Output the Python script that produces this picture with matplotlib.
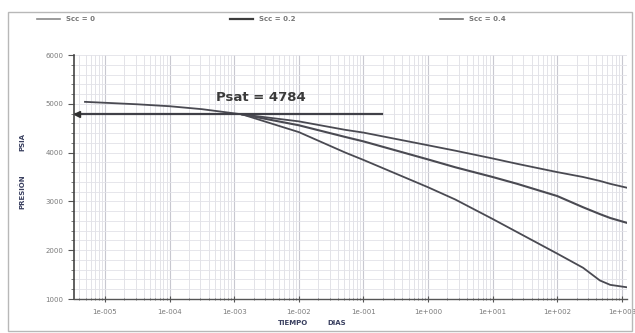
import numpy as np
import matplotlib.pyplot as plt
from matplotlib.ticker import FixedLocator, FuncFormatter, MultipleLocator
from matplotlib.lines import Line2D
from matplotlib.patches import Rectangle

# common curve above Psat (log10 of time in days, pressure psia)
log_t_common = [-5.31, -4.5, -4.0, -3.5, -2.88]
p_common = [5040, 4990, 4950, 4890, 4784]

# branches below Psat
log_t_branch = [-2.88, -2.0, -1.28, -1.0, 0.0, 0.42, 1.0, 1.38, 2.0, 2.4, 2.66, 2.82, 3.08]
p_scc04 = [4784, 4640, 4466, 4410, 4150, 4040, 3880, 3770, 3600, 3500, 3420, 3360, 3280]
p_scc02 = [4784, 4560, 4320, 4230, 3860, 3700, 3500, 3360, 3110, 2880, 2740, 2660, 2560]
p_scc00 = [4784, 4420, 4000, 3850, 3290, 3040, 2640, 2370, 1930, 1640, 1380, 1290, 1240]

psat = 4784
psat_end_log = -0.71

legend_labels = ['Scc = 0', 'Scc = 0.2', 'Scc = 0.4']
legend_colors = ['#8a8a8a', '#3c3c3c', '#6e6e6e']

xlim_log = (-5.48, 3.08)
ylim = (1000, 6000)

fig = plt.figure(figsize=(6.35, 3.33), dpi=100)
fig.patch.set_facecolor('white')
ax = fig.add_axes([74/635, 1-299/333, (627-74)/635, (299-55)/333])

# outer frame of the scanned chart
fig.patches.append(Rectangle((8/635, 2/333), 624/635, 319/333, transform=fig.transFigure,
                             fill=False, edgecolor='#b8b8b8', linewidth=1.0))

ax.set_xscale('log')
ax.set_xlim(10**xlim_log[0], 10**xlim_log[1])
ax.set_ylim(*ylim)

curve_col = '#4a4a52'
t_c = 10**np.array(log_t_common)
t_b = 10**np.array(log_t_branch)
ax.plot(t_c, p_common, color=curve_col, lw=1.3)
ax.plot(t_b, p_scc04, color=curve_col, lw=1.3)
ax.plot(t_b, p_scc02, color=curve_col, lw=1.5)
ax.plot(t_b, p_scc00, color=curve_col, lw=1.3)

# Psat line with arrow head at the axis
ax.plot([10**xlim_log[0], 10**psat_end_log], [psat, psat], color='#404048', lw=1.6)
ax.plot([10**(xlim_log[0] + 0.04)], [psat], marker='<', color='#303030', ms=5, clip_on=False)
ax.text(10**-3.28, 5120, 'Psat = 4784', fontsize=9.5, fontweight='bold', color='#3a3a3a',
        ha='left', va='center')

# grid
ax.xaxis.set_major_locator(FixedLocator([10.0**k for k in range(-5, 4)]))
ax.yaxis.set_major_locator(MultipleLocator(1000))
ax.yaxis.set_minor_locator(MultipleLocator(200))
ax.grid(which='major', axis='x', color='#c8c8d0', lw=0.8)
ax.grid(which='minor', axis='x', color='#dedee4', lw=0.6)
ax.grid(which='both', axis='y', color='#e2e2e8', lw=0.6)
ax.set_axisbelow(True)

def fmt(v, pos):
    k = int(round(np.log10(v)))
    return '1e%s%03d' % ('+' if k >= 0 else '-', abs(k))

ax.xaxis.set_major_formatter(FuncFormatter(fmt))
ax.tick_params(axis='both', which='major', labelsize=5, labelcolor='#7a7a7a', colors='#555555',
               length=4, width=0.8)
ax.tick_params(axis='both', which='minor', length=2, width=0.6, colors='#666666')
ax.tick_params(axis='x', which='both', direction='inout', pad=5)

for s in ['top', 'right']:
    ax.spines[s].set_visible(False)
ax.spines['left'].set_color('#444444')
ax.spines['bottom'].set_color('#555555')
ax.spines['left'].set_linewidth(1.2)
ax.spines['bottom'].set_linewidth(1.0)

fig.text(22/635, 1-142/333, 'PSIA', rotation=90, fontsize=5, fontweight='bold',
         color='#3a4060', ha='center', va='center')
fig.text(22/635, 1-192/333, 'PRESIÓN', rotation=90, fontsize=5, fontweight='bold',
         color='#3a4060', ha='center', va='center')
fig.text(293/635, 1-323/333, 'TIEMPO', fontsize=5, fontweight='bold', color='#3a4060',
         ha='center', va='center')
fig.text(337/635, 1-323/333, 'DIAS', fontsize=5, fontweight='bold', color='#3a4060',
         ha='center', va='center')

# legend across the top
leg_x = [37, 230, 440]
leg_y = 1 - 19/333
for x0, lab, c in zip(leg_x, legend_labels, legend_colors):
    fig.lines.append(Line2D([x0/635, (x0+23)/635], [leg_y, leg_y], transform=fig.transFigure,
                            color=c, lw=1.6 if lab == 'Scc = 0.2' else 1.2))
    fig.text((x0+29)/635, leg_y, lab, fontsize=5, fontweight='bold', color='#777777',
             ha='left', va='center')

fig.savefig('out.png', dpi=100, facecolor='white')
